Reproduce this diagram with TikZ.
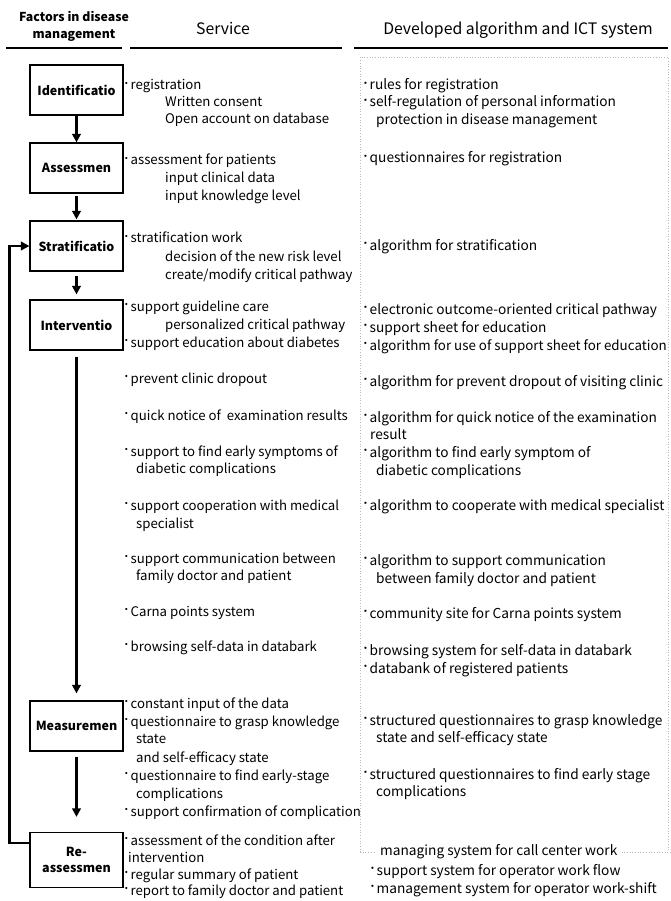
\documentclass[tikz,border=0pt]{standalone}
\usepackage{fontspec}
\setmainfont{Noto Sans CJK JP}
\usetikzlibrary{arrows.meta}

% bullet mark used at the start of list entries
\newcommand\bul{\makebox[7.5pt][l]{\raisebox{0.14em}{･}}}
% one line of text, placed by the vertical middle of its lowercase letters
\newcommand\tline[4]{\node[txt] (#1) at (#2,#3) {#4};}
\newcommand\rline[4]{\node[txt, rtxt] (#1) at (#2,#3) {#4};}

\begin{document}
\begin{tikzpicture}[x=1pt,y=-1pt,
  txt/.style={anchor=west, inner sep=0pt, text height=9pt, text depth=3pt,
              font=\fontsize{13.2}{15}\selectfont},
  rtxt/.style={font=\fontsize{13.7}{15}\selectfont},
  stage/.style={draw, line width=1.2pt, minimum width=93pt, minimum height=50pt,
                inner sep=1pt, align=center,
                font=\bfseries\fontsize{12.5}{15}\selectfont},
  headsm/.style={align=center, inner sep=0pt, font=\bfseries\fontsize{12.3}{17}\selectfont},
  headlg/.style={inner sep=0pt, font=\fontsize{15.8}{18}\selectfont},
  flow/.style={line width=2.2pt, -{Triangle[length=8.5pt,width=8.5pt]}},
  rulebar/.style={line width=1.3pt},
  frame/.style={gray!55, dotted, line width=0.7pt}]

\useasboundingbox (0,0) rectangle (671,901);

% column headings
\node[headsm] (hf) at (74,26) {Factors in disease\\management};
\node[headlg] (hs) at (223,28) {Service};
\node[headlg] (hd) at (518,30) {Developed algorithm and ICT system};
\draw[rulebar] (6,48) -- (122,48);
\draw[rulebar] (130,48) -- (342,48);
\draw[rulebar] (354,48) -- (668,48);

% stages of disease management
\node[stage] (id) at (76.5,90)  {Identificatio};
\node[stage] (as) at (76.5,168) {Assessmen};
\node[stage] (st) at (76.5,246) {Stratificatio};
\node[stage] (iv) at (76.5,325) {Interventio};
\node[stage] (ms) at (76.5,726) {Measuremen};
\node[stage, minimum height=55pt] (ra) at (76.5,860) {Re-\\[1pt]assessmen};

\draw[flow] (id.south) -- (as.north);
\draw[flow, shorten <=2pt, shorten >=1pt] (as.south) -- (st.north);
\draw[flow, shorten <=4pt, shorten >=5pt] (st.south) -- (iv.north);
\draw[flow, shorten <=6pt, shorten >=7pt] (iv.south) -- (ms.north);
\draw[flow, shorten <=5pt, shorten >=15pt] (ms.south) -- (ra.north);
\coordinate (back) at ([yshift=-11pt]ra.north west);
\draw[flow] (back) -- ++(-20,0) |- (st.west);

% services
\tline{a1}{123}{87}{\bul registration}
\tline{a2}{165}{104}{Written consent}
\tline{a3}{165}{121}{Open account on database}
\tline{b1}{123}{162}{\bul assessment for patients}
\tline{b2}{165}{180}{input clinical data}
\tline{b3}{165}{198}{input knowledge level}
\tline{c1}{123}{240}{\bul stratification work}
\tline{c2}{165}{258}{decision of the new risk level}
\tline{c3}{165}{276}{create/modify critical pathway}
\tline{d1}{123}{308}{\bul support guideline care}
\tline{d2}{165}{326}{personalized critical pathway}
\tline{d3}{123}{344}{\bul support education about diabetes}
\tline{e1}{123}{380}{\bul prevent clinic dropout}
\tline{f1}{123}{417}{\bul quick notice of\ \ examination results}
\tline{g1}{123}{453}{\bul support to find early symptoms of}
\tline{g2}{136}{470}{diabetic complications}
\tline{h1}{123}{507}{\bul support cooperation with medical}
\tline{h2}{136}{525}{specialist}
\tline{i1}{123}{560}{\bul support communication between}
\tline{i2}{136}{577}{family doctor and patient}
\tline{j1}{123}{613}{\bul Carna points system}
\tline{k1}{123}{648}{\bul browsing self-data in databark}
\tline{m1}{123}{705}{\bul constant input of the data}
\tline{m2}{123}{723}{\bul questionnaire to grasp knowledge}
\tline{m3}{136}{740}{state}
\tline{m4}{136}{759}{and self-efficacy state}
\tline{m5}{123}{777}{\bul questionnaire to find early-stage}
\tline{m6}{136}{795}{complications}
\tline{m7}{123}{813}{\bul support confirmation of complication}
\tline{n1}{123}{842}{\bul assessment of the condition after}
\tline{n2}{128}{859}{intervention}
\tline{n3}{123}{876}{\bul regular summary of patient}
\tline{n4}{123}{892}{\bul report to family doctor and patient}

% algorithms and ICT systems
\rline{p1}{362}{87}{\bul rules for registration}
\rline{p2}{362}{104}{\bul self-regulation of personal information}
\rline{p3}{376}{122}{protection in disease management}
\rline{q1}{362}{160}{\bul questionnaires for registration}
\rline{r1}{362}{247}{\bul algorithm for stratification}
\rline{s1}{362}{311}{\bul electronic outcome-oriented critical pathway}
\rline{s2}{362}{329}{\bul support sheet for education}
\node[txt, font=\fontsize{13.35}{15}\selectfont] (s3) at (362,347)
  {\bul algorithm for use of support sheet for education};
\rline{t1}{362}{383}{\bul algorithm for prevent dropout of visiting clinic}
\rline{u1}{362}{419}{\bul algorithm for quick notice of the examination}
\rline{u2}{370}{436}{result}
\rline{v1}{362}{454}{\bul algorithm to find early symptom of}
\rline{v2}{376}{472}{diabetic complications}
\rline{w1}{362}{507}{\bul algorithm to cooperate with medical specialist}
\rline{x1}{362}{562}{\bul algorithm to support communication}
\rline{x2}{376}{580}{between family doctor and patient}
\rline{y1}{362}{615}{\bul community site for Carna points system}
\rline{z1}{362}{652}{\bul browsing system for self-data in databark}
\rline{z2}{362}{670}{\bul databank of registered patients}
\rline{o1}{362}{722}{\bul structured questionnaires to grasp knowledge}
\rline{o2}{376}{739}{state and self-efficacy state}
\rline{o3}{362}{776}{\bul structured questionnaires to find early stage}
\rline{o4}{376}{793}{complications}
\rline{cc}{380}{852}{managing system for call center work}
\rline{op1}{369}{872}{\bul support system for operator work flow}
\rline{op2}{369}{890}{\bul management system for operator work-shift}

% dotted frame round the system column, broken by the call-center caption
\draw[frame] (360,852) -- (360,57) -- (668,57) -- (668,852);
\draw[frame] (360,852) -- ([xshift=-4pt]cc.west);
\draw[frame] ([xshift=4pt]cc.east) -- (671,852);
\end{tikzpicture}
\end{document}
